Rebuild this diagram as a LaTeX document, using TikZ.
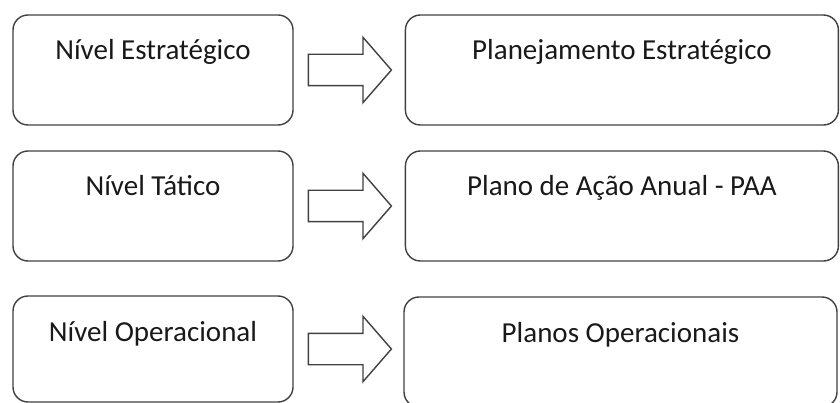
\documentclass[tikz,border=0pt]{standalone}
\usepackage{fontspec}
\setmainfont{Carlito}
\usetikzlibrary{positioning,shapes.arrows}

\begin{document}
\begin{tikzpicture}[x=1pt,y=-1pt,
	caixa/.style = {draw=black!75, line width=1.4pt, rounded corners=15pt,
		minimum height=110pt, text height=20pt, text depth=40pt,
		font=\fontsize{29}{34}\selectfont, text=black!90},
	seta/.style = {draw=black!75, line width=1.4pt, single arrow,
		single arrow head extend=17pt, single arrow tip angle=98,
		minimum height=83pt, inner xsep=0pt, inner ysep=15pt}]
	\useasboundingbox (0,0) rectangle (840,403);

	\node[caixa, minimum width=280pt] (nivel1) at (153,70) {Nível Estratégico};
	\node[caixa, minimum width=280pt] (nivel2) at (153,206) {Nível Tático};
	\node[caixa, minimum width=280pt, minimum height=106pt, text depth=36pt] (nivel3) at (153,349) {Nível Operacional};

	\node[caixa, minimum width=433pt, right=111pt of nivel1] (plano1) {Planejamento Estratégico};
	\node[caixa, minimum width=433pt, right=111pt of nivel2] (plano2) {Plano de Ação Anual - PAA};
	\node[caixa, minimum width=433pt] (plano3) at (620.5,352) {Planos Operacionais};

	\node[seta, right=14pt of nivel1] (seta1) {};
	\node[seta, right=14pt of nivel2] (seta2) {};
	\node[seta, right=14pt of nivel3] (seta3) {};
\end{tikzpicture}
\end{document}
